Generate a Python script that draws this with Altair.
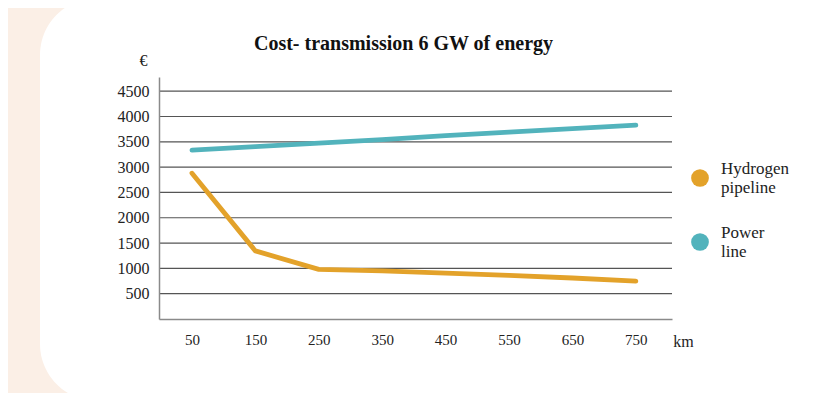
import altair as alt
import pandas as pd

km = [50, 150, 250, 350, 450, 550, 650, 750]
hydrogen = [2880, 1345, 980, 950, 905, 860, 810, 750]
power = [3335, 3405, 3475, 3545, 3620, 3690, 3760, 3830]
series = ["Hydrogen pipeline", "Power line"]
colors = ["#E3A22A", "#52B3BC"]
y_ticks = [500, 1000, 1500, 2000, 2500, 3000, 3500, 4000, 4500]

df = pd.DataFrame({
    "km": km * 2,
    "cost": hydrogen + power,
    "series": [series[0]] * len(km) + [series[1]] * len(km),
})
grid_df = pd.DataFrame({"cost": y_ticks})

FONT = "Liberation Serif"

x_scale = alt.Scale(domain=[-2, 807], nice=False, zero=False)
y_scale = alt.Scale(domain=[0, 4780], nice=False)

x_axis = alt.Axis(values=km, grid=False, ticks=False, domainColor="#8a8a8a",
                  domainWidth=1.5, labelFont=FONT, labelFontSize=15,
                  labelColor="#222", labelPadding=13, title="km",
                  titleFont=FONT, titleFontSize=16, titleFontWeight="normal",
                  titleColor="#222", titleX=524, titleY=22,
                  titleAlign="center", titleBaseline="middle", zindex=1)

y_axis = alt.Axis(values=y_ticks, grid=False, format="d",
                  ticks=False, domainColor="#8a8a8a", domainWidth=1.5,
                  labelFont=FONT, labelFontSize=16, labelColor="#222",
                  labelPadding=10, title="€", titleAngle=0, titleFont=FONT,
                  titleFontSize=16, titleFontWeight="normal", titleColor="#222",
                  titleX=-16, titleY=-17, titleAlign="center",
                  titleBaseline="middle", zindex=1)

color_enc = alt.Color("series:N",
                      scale=alt.Scale(domain=series, range=colors),
                      legend=alt.Legend(orient="none", legendX=532, legendY=92,
                                        title=None, symbolType="circle", symbolSize=314,
                                        symbolStrokeWidth=0, symbolOpacity=1,
                                        labelFont=FONT, labelFontSize=17, labelColor="#222",
                                        labelOffset=12, rowPadding=28,
                                        labelBaseline="bottom",
                                        labelExpr="split(datum.label, ' ')"))

# filled points (hidden under the white card) so the legend shows filled discs
points = alt.Chart(df).mark_circle(size=20, opacity=1).encode(
    x=alt.X("km:Q", scale=x_scale, axis=x_axis),
    y=alt.Y("cost:Q", scale=y_scale, axis=y_axis),
    color=color_enc,
)

card = alt.Chart(alt.Data(values=[{}])).mark_rect(
    color="white", cornerRadius=57
).encode(
    x=alt.value(-119), x2=alt.value(800), y=alt.value(-79), y2=alt.value(324)
)

grid = alt.Chart(grid_df).mark_rule(color="#555", strokeWidth=1.2).encode(
    y=alt.Y("cost:Q", scale=y_scale, axis=y_axis)
)

lines = alt.Chart(df).mark_line(strokeWidth=4.8, strokeCap="round", strokeJoin="round").encode(
    x=alt.X("km:Q", scale=x_scale, axis=x_axis),
    y=alt.Y("cost:Q", scale=y_scale, axis=y_axis),
    color=color_enc,
)

chart = alt.layer(points, card, grid, lines).properties(
    width=513,
    height=242,
    autosize=alt.AutoSizeParams(type="none"),
    padding={"left": 151, "top": 69, "right": 144, "bottom": 74},
    background="#FBEFE6",
    title=alt.TitleParams("Cost- transmission 6 GW of energy", font=FONT, fontSize=20,
                          fontWeight="bold", color="#111", anchor="middle",
                          frame="group", offset=0, dy=56, dx=-12),
).configure_view(stroke=None)

chart.save("out.html", embed_options={"renderer": "svg", "actions": False})
